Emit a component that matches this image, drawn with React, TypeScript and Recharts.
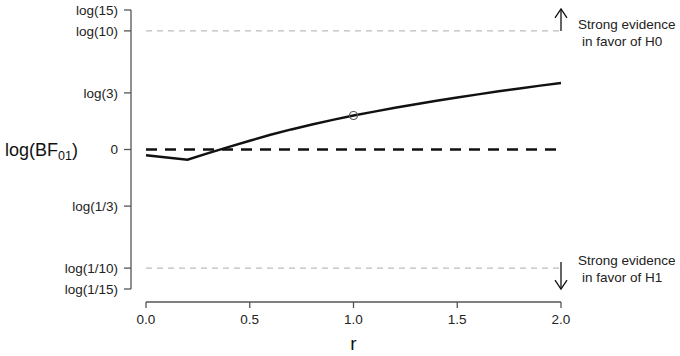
import {
  ComposedChart,
  Line,
  XAxis,
  YAxis,
  ReferenceLine,
  ReferenceDot,
} from "recharts";

// Bayes factor (log scale) as a function of the prior scale r
const rValues = [0, 0.2, 0.3, 0.4, 0.5, 0.6, 0.7, 0.8, 0.9, 1.0, 1.1, 1.2, 1.3, 1.4, 1.5, 1.6, 1.7, 1.8, 1.9, 2.0];
const logBF01 = [-0.11, -0.2, -0.07, 0.05, 0.17, 0.285, 0.39, 0.485, 0.575, 0.66, 0.735, 0.81, 0.88, 0.945, 1.01, 1.07, 1.13, 1.185, 1.24, 1.29];

// the highlighted default r
const markedR = 1.0;
const markedLogBF = 0.66;

const xTicks = [0, 0.5, 1, 1.5, 2];
const yTickBF = [15, 10, 3, 1, 1 / 3, 1 / 10, 1 / 15];
const yTickLabels = ["log(15)", "log(10)", "log(3)", "0", "log(1/3)", "log(1/10)", "log(1/15)"];

const strongH0 = ["Strong evidence", "in favor of H0"];
const strongH1 = ["Strong evidence", "in favor of H1"];

const yTicks = yTickBF.map((v) => Math.log(v));
const data = rValues.map((r, i) => ({ r, bf: logBF01[i] }));

const FONT = "'Liberation Sans', Arial, Helvetica, sans-serif";
const AXIS = "#555";
const TEXT = "#222";
const PAD_LEFT = 15;
const PAD_BOTTOM = 13;

const yFmt = (v: number) => {
  const i = yTicks.findIndex((t) => Math.abs(t - v) < 1e-9);
  return i >= 0 ? yTickLabels[i] : "";
};

const YLabel = (props: any) => {
  const vb = props.viewBox ?? { x: 0, y: 10, width: 131, height: 292 };
  const cy = vb.y + (vb.height - PAD_BOTTOM) / 2;
  return (
    <text x={vb.x + 5} y={cy + 6} fontSize={18} fill="#111" fontFamily={FONT}>
      log(BF
      <tspan fontSize={12.5} dy={4}>01</tspan>
      <tspan dy={-4}>)</tspan>
    </text>
  );
};

const XLabel = (props: any) => {
  const vb = props.viewBox ?? { x: 131, y: 302, width: 430, height: 54 };
  const cx = vb.x + PAD_LEFT + (vb.width - PAD_LEFT) / 2;
  return (
    <text x={cx} y={350} textAnchor="middle" fontSize={19} fill="#111" fontFamily={FONT}>
      r
    </text>
  );
};

const Annotation = (lines: string[], up: boolean) => (p: any) => {
  const { cx, cy } = p;
  const top = up ? cy - 22 : cy - 6;
  const bottom = up ? cy : cy + 21;
  const head = up
    ? `M${cx - 6},${top + 9} L${cx},${top} L${cx + 6},${top + 9}`
    : `M${cx - 6},${bottom - 9} L${cx},${bottom} L${cx + 6},${bottom - 9}`;
  const base = up ? cy - 2 : cy - 3;
  return (
    <g>
      <line x1={cx} y1={top} x2={cx} y2={bottom} stroke="#111" strokeWidth={1.3} />
      <path d={head} fill="none" stroke="#111" strokeWidth={1.3} />
      <text x={cx + 17} y={base} fontSize={13.5} fill={TEXT} fontFamily={FONT}>
        {lines[0]}
      </text>
      <text x={cx + 21} y={base + 17} fontSize={13.5} fill={TEXT} fontFamily={FONT}>
        {lines[1]}
      </text>
    </g>
  );
};

export default function App() {
  const lo = Math.log(1 / 15);
  const hi = Math.log(15);
  return (
    <div style={{ position: "absolute", left: 0, top: 0, background: "#fff" }}>
      <style>{"body{margin:0}"}</style>
      <ComposedChart
        width={680}
        height={356}
        data={data}
        margin={{ top: 10, right: 119, bottom: 0, left: 0 }}
        style={{ fontFamily: FONT }}
      >
        <XAxis
          dataKey="r"
          type="number"
          domain={[0, 2]}
          ticks={xTicks}
          interval={0}
          padding={{ left: PAD_LEFT, right: 0 }}
          height={54}
          axisLine={false}
          tickLine={{ stroke: AXIS, strokeWidth: 1.3 }}
          tickSize={6}
          tickMargin={6}
          tickFormatter={(v: number) => v.toFixed(1)}
          tick={{ fontSize: 13.5, fill: TEXT, fontFamily: FONT }}
          label={<XLabel />}
        />
        <YAxis
          type="number"
          domain={[lo, hi]}
          allowDataOverflow
          ticks={yTicks}
          interval={0}
          padding={{ top: 0, bottom: PAD_BOTTOM }}
          width={131}
          axisLine={false}
          tickLine={{ stroke: AXIS, strokeWidth: 1.3 }}
          tickSize={7}
          tickMargin={6}
          tickFormatter={yFmt}
          tick={{ fontSize: 13.5, fill: TEXT, fontFamily: FONT }}
          label={<YLabel />}
        />

        {/* detached R-style axis lines */}
        <ReferenceLine
          segment={[{ x: 0, y: lo }, { x: 0, y: hi }]}
          ifOverflow="visible"
          shape={(p: any) => (
            <line x1={p.x1 - PAD_LEFT} y1={p.y1} x2={p.x2 - PAD_LEFT} y2={p.y2} stroke={AXIS} strokeWidth={1.3} />
          )}
        />
        <ReferenceLine
          segment={[{ x: 0, y: lo }, { x: 2, y: lo }]}
          ifOverflow="visible"
          shape={(p: any) => (
            <line x1={p.x1} y1={p.y1 + PAD_BOTTOM} x2={p.x2} y2={p.y2 + PAD_BOTTOM} stroke={AXIS} strokeWidth={1.3} />
          )}
        />

        <ReferenceLine
          segment={[{ x: 0, y: Math.log(10) }, { x: 2, y: Math.log(10) }]}
          stroke="#bdbdbd"
          strokeWidth={1.2}
          strokeDasharray="6 5"
        />
        <ReferenceLine
          segment={[{ x: 0, y: Math.log(1 / 10) }, { x: 2, y: Math.log(1 / 10) }]}
          stroke="#bdbdbd"
          strokeWidth={1.2}
          strokeDasharray="6 5"
        />
        <ReferenceLine
          segment={[{ x: 0, y: 0 }, { x: 2, y: 0 }]}
          stroke="#111"
          strokeWidth={2.5}
          strokeDasharray="11 8"
        />

        <Line
          dataKey="bf"
          type="linear"
          stroke="#111"
          strokeWidth={2.5}
          dot={false}
          activeDot={false}
          isAnimationActive={false}
        />

        <ReferenceDot x={markedR} y={markedLogBF} r={4} fill="none" stroke="#555" strokeWidth={1.2} />

        <ReferenceDot
          x={2}
          y={Math.log(10)}
          ifOverflow="visible"
          shape={Annotation(strongH0, true)}
        />
        <ReferenceDot
          x={2}
          y={Math.log(1 / 10)}
          ifOverflow="visible"
          shape={Annotation(strongH1, false)}
        />
      </ComposedChart>
    </div>
  );
}
